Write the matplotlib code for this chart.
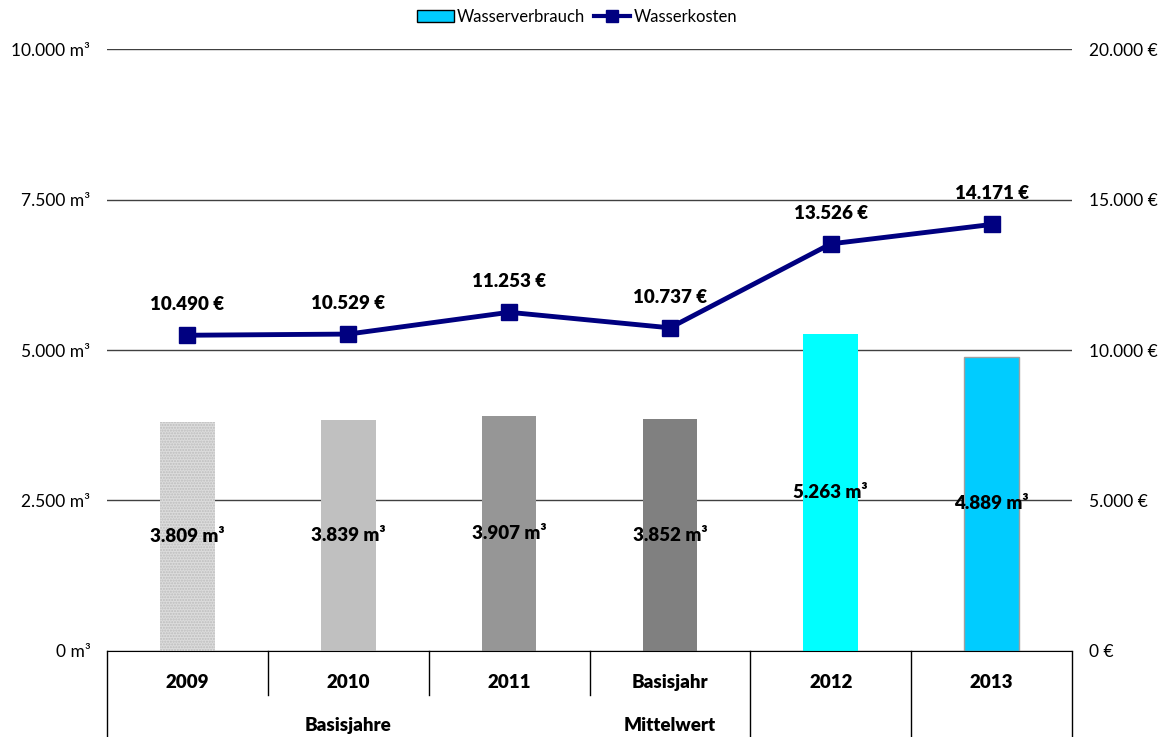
import matplotlib.pyplot as plt
from matplotlib.lines import Line2D
from matplotlib.patches import Patch

plt.rcParams["font.family"] = ["Lato", "DejaVu Sans"]

categories = ["2009", "2010", "2011", "Basisjahr", "2012", "2013"]
groups = [("Basisjahre", 0, 2), ("Mittelwert", 3, 3), ("", 4, 5)]
verbrauch = [3809, 3839, 3907, 3852, 5263, 4889]
kosten = [10490, 10529, 11253, 10737, 13526, 14171]
bar_colors = ["#dcdcdc", "#c0c0c0", "#969696", "#808080", "#00ffff", "#00ccff"]
left_ticks = [0, 2500, 5000, 7500, 10000]
right_ticks = [0, 5000, 10000, 15000, 20000]


def de(n):
    return f"{n:,}".replace(",", ".")


fig = plt.figure(figsize=(11.66, 7.37), dpi=100)
ax = fig.add_axes([0.0918, 0.1167, 0.8276, 0.8168])
ax2 = ax.twinx()

x = list(range(len(categories)))
bars = ax.bar(x, verbrauch, width=0.34, color=bar_colors, linewidth=0, zorder=2)
# first bar is dotted, last one has a thin grey frame
bars[0].set_hatch("......")
bars[0].set_edgecolor("#bdbdbd")
bars[-1].set_edgecolor("#a0a0a0")
bars[-1].set_linewidth(1)

for xi, v in zip(x, verbrauch):
    ax.text(xi, v / 2, f"{de(v)} m³", ha="center", va="center",
            fontsize=13.5, fontweight="heavy", zorder=4)

ax.set_xlim(-0.5, 5.5)
ax.set_ylim(0, 10000)
ax.set_yticks(left_ticks)
ax.set_yticklabels([f"{de(t)} m³" for t in left_ticks], fontsize=12.5)
ax.grid(axis="y", color="#404040", linewidth=1, zorder=0)
ax.set_axisbelow(True)
ax.tick_params(length=0, pad=12)
ax.set_xticks([])
for s in ["top", "left", "right"]:
    ax.spines[s].set_visible(False)
ax.spines["bottom"].set_color("black")

ax2.plot(x, kosten, color="#000080", linewidth=3.5, marker="s",
         markersize=12, zorder=5)
for xi, v in zip(x, kosten):
    ax2.annotate(f"{de(v)} €", (xi, v), xytext=(0, 16), textcoords="offset points",
                 ha="center", va="bottom", fontsize=13.5, fontweight="heavy")
ax2.set_ylim(0, 20000)
ax2.set_yticks(right_ticks)
ax2.set_yticklabels([f"{de(t)} €" for t in right_ticks], fontsize=12.5)
ax2.tick_params(length=0, pad=12)
for s in ax2.spines.values():
    s.set_visible(False)

# category table under the axis
tr = ax.get_xaxis_transform()
row1, row2 = -0.0731, -0.1429
for i, b in enumerate([-0.5 + k for k in range(len(categories) + 1)]):
    full = i in (0, 4, 5, 6)
    ax.plot([b, b], [0, row2 if full else row1], color="black", linewidth=1,
            transform=tr, clip_on=False)
for xi, c in zip(x, categories):
    ax.text(xi, -0.053, c, transform=tr, ha="center", va="center",
            fontsize=13.5, fontweight="heavy")
for name, a, b in groups:
    ax.text((a + b) / 2, -0.123, name, transform=tr, ha="center", va="center",
            fontsize=13.5, fontweight="heavy")

handles = [Patch(facecolor="#00ccff", edgecolor="black", linewidth=1),
           Line2D([], [], color="#000080", linewidth=3, marker="s", markersize=9)]
fig.legend(handles, ["Wasserverbrauch", "Wasserkosten"], loc="center",
           bbox_to_anchor=(0.495, 0.977), ncol=2, frameon=False, fontsize=12,
           handlelength=2.2, handletextpad=0.2, columnspacing=0.5)

fig.savefig("out.png", dpi=100)
